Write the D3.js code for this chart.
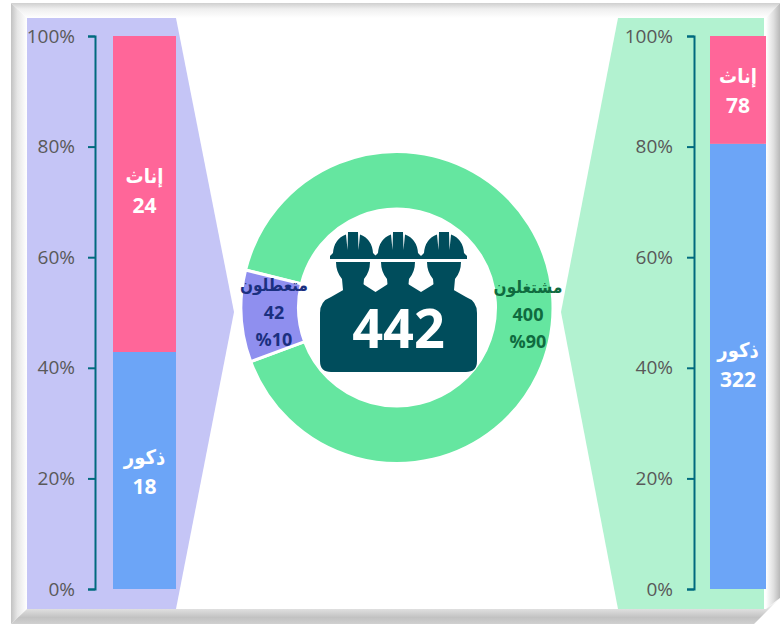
<!DOCTYPE html>
<html><head><meta charset="utf-8">
<script src="https://cdn.jsdelivr.net/npm/d3@7/dist/d3.min.js"></script>
<style>html,body{margin:0;padding:0;background:#fff}svg{display:block}
text{font-family:"Open Sans",Lato,sans-serif}
.ar{font-family:"DejaVu Sans Condensed","DejaVu Sans",sans-serif}</style></head><body>
<svg id="c" width="781" height="624"></svg>
<script>
const statusNames = ["مشتغلون","متعطلون"];
const statusValues = [400,42];
const statusPct = ["%90","%10"];
const genderNames = ["ذكور","إناث"];
const unemployedByGender = [18,24];
const employedByGender = [322,78];
const axisTicks = [0,.2,.4,.6,.8,1];
const total = 442;

const C={ring:"#65E6A0",slice:"#8F8FEF",lilac:"#C5C5F6",mint:"#B2F2D0",pink:"#FF6699",blue:"#6CA5F7",icon:"#004D5C",axis:"#006A7E",tick:"#595959"};
const svg=d3.select("#c");
const defs=svg.append("defs");
function grad(id,x1,y1,x2,y2,stops){
  const g=defs.append("linearGradient").attr("id",id).attr("x1",x1).attr("y1",y1).attr("x2",x2).attr("y2",y2);
  stops.forEach(s=>g.append("stop").attr("offset",s[0]).attr("stop-color",s[1]));
}
const ramp=[[0,"#c2c2c2"],[.4,"#e6e6e6"],[1,"#ffffff"]];
grad("gl",0,0,1,0,ramp);
grad("gt",0,0,0,1,[[0,"#cfcfcf"],[.4,"#efefef"],[1,"#ffffff"]]);
grad("gr",1,0,0,0,[[0,"#b8b8b8"],[.45,"#dedede"],[1,"#ffffff"]]);
grad("gb",0,1,0,0,[[0,"#d0d0d0"],[.25,"#c2c2c2"],[.65,"#e6e6e6"],[1,"#ffffff"]]);
const bands=[["gt",[[11,3],[780,3],[766,18],[27,18]]],
 ["gl",[[11,3],[27,18],[27,609],[11,624]]],
 ["gr",[[780,3],[780,598],[766,609],[766,18]]],
 ["gb",[[11,624],[27,609],[766,609],[780,598],[754,624]]]];
svg.selectAll("polygon.b").data(bands).join("polygon").attr("class","b")
  .attr("fill",d=>`url(#${d[0]})`).attr("points",d=>d[1].join(" "));

// side panels
svg.append("polygon").attr("fill",C.lilac).attr("points","27,18 176,18 234,312 176,609 27,609");
svg.append("polygon").attr("fill",C.mint).attr("points","618,18 764,18 764,609 618,609 561,312");

const y=d3.scaleLinear().domain([0,1]).range([589,36]);
function stacked(values,barX,barW,axisX,pad,nudge){
  const sum=d3.sum(values);
  const stack=d3.stack().keys([0,1])([values.map(v=>v/sum)].map(a=>({0:a[0],1:a[1]})));
  const g=svg.append("g");
  g.selectAll("rect").data(stack).join("rect")
    .attr("x",barX).attr("width",barW)
    .attr("y",d=>y(d[0][1])).attr("height",d=>y(d[0][0])-y(d[0][1]))
    .attr("fill",(d,i)=>i?C.pink:C.blue);
  stack.forEach((d,i)=>{
    const mid=y((d[0][0]+d[0][1])/2)+nudge[i], cx=barX+barW/2;
    g.append("text").attr("class","ar").attr("x",cx).attr("y",mid-7).attr("text-anchor","middle")
      .attr("fill","#fff").attr("font-size",20).attr("font-weight",700).text(genderNames[i]);
    g.append("text").attr("x",cx).attr("y",mid+23).attr("text-anchor","middle")
      .attr("fill","#fff").attr("font-size",21).attr("font-weight",700).text(values[i]);
  });
  const ax=svg.append("g").attr("transform",`translate(${axisX},0)`)
    .call(d3.axisLeft(y).tickValues(axisTicks).tickFormat(d3.format(".0%")).tickSize(7).tickPadding(pad));
  ax.selectAll("path,line").attr("stroke",C.axis).attr("stroke-width",2);
  ax.selectAll("text").attr("fill",C.tick).attr("font-size",19).attr("font-family","Lato");
}
stacked(unemployedByGender,113,63,95,13,[0,-4]);
stacked(employedByGender,710,56,694,14,[-2,0]);

// donut
const cx=397,cy=307.5;
const start=283.9*Math.PI/180;
const pie=d3.pie().sort(null).startAngle(start).endAngle(start+2*Math.PI);
const arc=d3.arc().innerRadius(98.5).outerRadius(156);
const dg=svg.append("g").attr("transform",`translate(${cx},${cy})`);
dg.selectAll("path").data(pie(statusValues)).join("path").attr("d",arc)
  .attr("fill",(d,i)=>i?C.slice:C.ring).attr("stroke","#fff").attr("stroke-width",3);

// workers icon
const ig=svg.append("g").attr("fill",C.icon);
const heads=[353,398,444];
ig.append("path").attr("d",
 "M320,313 Q320,301 331,297 L345,289 L363,284 L375.5,292 L388,284 L408,284 L421,292 L434,284 L452,289 L466,297 Q477,301 477,313 L477,361 Q477,372 466,372 L331,372 Q320,372 320,361 Z");
heads.forEach(h=>{
  ig.append("path").attr("d",
   `M${h-17},262 L${h+17},262 Q${h+17},272 ${h+11},279 L${h+10},290 L${h-10},290 L${h-11},279 Q${h-17},272 ${h-17},262 Z`);
  ig.append("path").attr("d",
   `M${h-20},253 Q${h-19},239 ${h-7},234.5 L${h-5.5},250 L${h-5},232 L${h+5},232 L${h+5.5},250 L${h+7},234.5 Q${h+19},239 ${h+20},253 L${h+23},256 L${h+23},259 L${h-23},259 L${h-23},256 Z`);
});
svg.append("text").attr("x",398.5).attr("y",348).attr("text-anchor","middle").attr("fill","#fff")
  .attr("font-size",54).attr("font-weight",700).text(total);

// ring labels
const ringLabel=[{x:528,y:[293,321,348],c:"#0F6B3F"},{x:274,y:[291,319,346],c:"#1B2F80"}];
ringLabel.forEach((p,i)=>{
  const g=svg.append("g").attr("text-anchor","middle").attr("fill",p.c).attr("font-weight",700);
  g.append("text").attr("class","ar").attr("x",p.x).attr("y",p.y[0]).attr("font-size",17).text(statusNames[i]);
  g.append("text").attr("x",p.x).attr("y",p.y[1]).attr("font-size",18).text(statusValues[i]);
  g.append("text").attr("x",p.x).attr("y",p.y[2]).attr("font-size",18).text(statusPct[i]);
});
</script></body></html>
